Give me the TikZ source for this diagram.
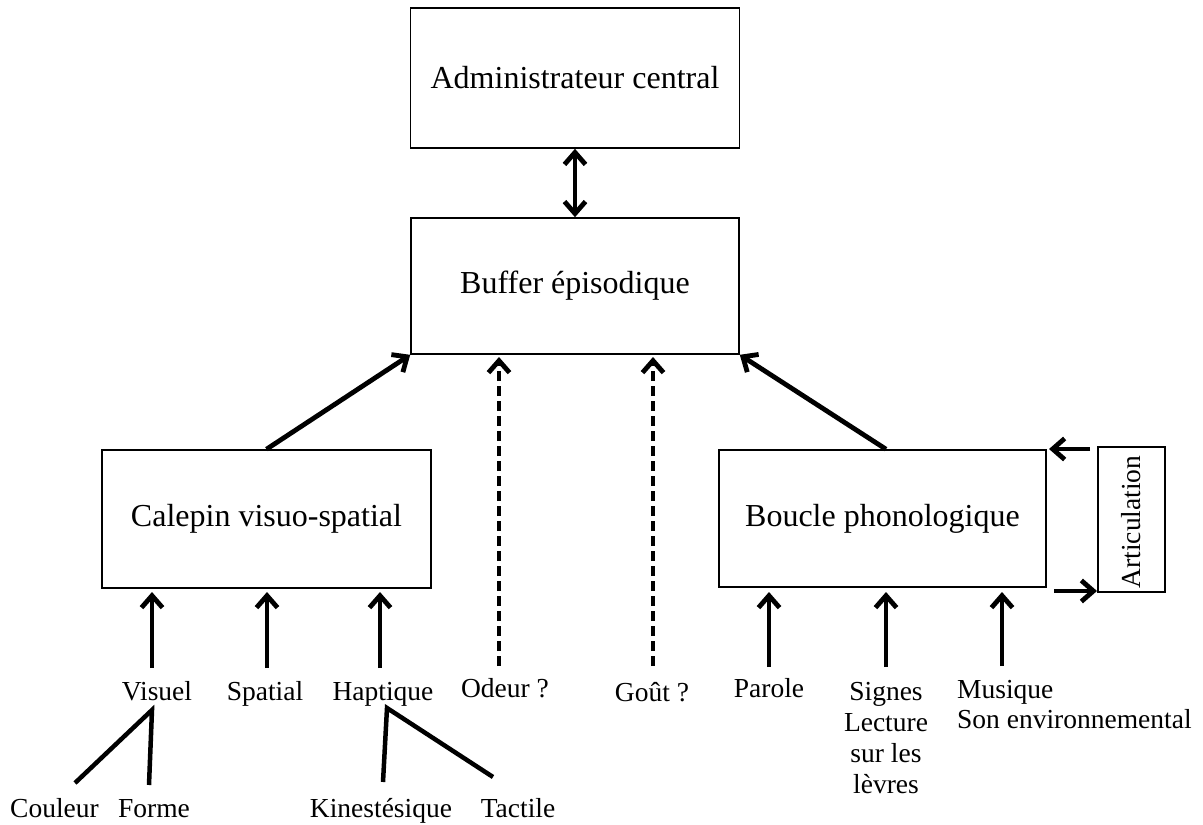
\documentclass[tikz,border=0pt]{standalone}
\usepackage{fontspec}
\setmainfont{Liberation Serif}
\usetikzlibrary{arrows.meta}
\begin{document}
\begin{tikzpicture}[x=1pt,y=-1pt,
  box/.style={draw,line width=1.6pt,inner sep=0pt,font=\fontsize{32}{37}\selectfont},
  lbl/.style={inner sep=0pt,anchor=base,font=\fontsize{27.5}{31}\selectfont},
  barb/.tip={Straight Barb[length=12pt,width=21pt,line width=4.8pt]},
  arr/.style={line width=4.8pt,-barb},
  darr/.style={arr,dash pattern=on 10pt off 5pt},
  twoarr/.style={line width=4.8pt,barb-barb},
  branch/.style={line width=4.5pt}]
\useasboundingbox (0,0) rectangle (1203,825);

% boxes
\node[box,minimum width=329pt,minimum height=140pt] (adm) at (575,78) {Administrateur central};
\node[box,minimum width=328pt,minimum height=136pt] (buf) at (575,286) {Buffer épisodique};
\node[box,minimum width=329pt,minimum height=138pt] (cal) at (266.5,519) {Calepin visuo-spatial};
\node[box,minimum width=327pt,minimum height=137pt] (bou) at (882.5,518.5) {Boucle phonologique};
\node[draw,line width=1.6pt,minimum width=67pt,minimum height=145pt,inner sep=0pt] (art) at (1131.5,519.5) {};
\node[inner sep=0pt,rotate=90,font=\fontsize{27.5}{31}\selectfont] (artt) at (1131.5,522) {Articulation};

% links between the components
\draw[twoarr] (adm.south) -- (buf.north);
\draw[arr] (cal.north) -- (buf.south west);
\draw[arr] (bou.north) ++(3.5pt,0) coordinate (bn) (bn) -- (buf.south east);
\coordinate (artA) at (1090,449);
\coordinate (bouA) at (1049,449);
\draw[arr] (artA) -- (bouA);
\coordinate (bouB) at (1054,591);
\coordinate (artB) at (1097,591);
\draw[arr] (bouB) -- (artB);

% sensory labels
\node[lbl] (vis) at (157,700) {Visuel};
\node[lbl] (spa) at (265,700) {Spatial};
\node[lbl] (hap) at (383,700) {Haptique};
\node[lbl] (ode) at (505,697) {Odeur ?};
\node[lbl] (gou) at (652,701) {Goût ?};
\node[lbl] (par) at (769,697) {Parole};
\node[lbl,align=center,anchor=north,font=\fontsize{27.5}{31}\selectfont] (sig) at (886,682) {Signes\\Lecture\\sur les\\lèvres};
\node[lbl,align=left,anchor=north west,font=\fontsize{27.5}{30.5}\selectfont] (mus) at (957,680) {Musique\\Son environnemental};
\node[lbl] (cou) at (54.5,817) {Couleur};
\node[lbl] (for) at (154,817) {Forme};
\node[lbl] (kin) at (381,817) {Kinestésique};
\node[lbl] (tac) at (518,817) {Tactile};

% arrows into the calepin
\coordinate (t1) at (152,668); \coordinate (h1) at (152,592);
\coordinate (t2) at (267,668); \coordinate (h2) at (267,592);
\coordinate (t3) at (380,668); \coordinate (h3) at (380,592);
\draw[arr] (t1) -- (h1);
\draw[arr] (t2) -- (h2);
\draw[arr] (t3) -- (h3);

% arrows into the phonological loop
\coordinate (t4) at (769,667); \coordinate (h4) at (769,592);
\coordinate (t5) at (886,667); \coordinate (h5) at (886,592);
\coordinate (t6) at (1002,666); \coordinate (h6) at (1002,592);
\draw[arr] (t4) -- (h4);
\draw[arr] (t5) -- (h5);
\draw[arr] (t6) -- (h6);

% dashed arrows for smell and taste
\coordinate (od) at (499,666); \coordinate (odh) at (499,357);
\coordinate (go) at (653,666); \coordinate (goh) at (653,357);
\draw[darr] (od) -- (odh);
\draw[darr] (go) -- (goh);

% sub-branches
\coordinate (va) at (152,710);
\coordinate (vc) at (75,783);
\coordinate (vf) at (149,785);
\draw[branch] (vc) -- (va) -- (vf);
\coordinate (ha) at (387,708);
\coordinate (hk) at (383,782);
\coordinate (ht) at (493,777);
\draw[branch] (hk) -- (ha) -- (ht);
\end{tikzpicture}
\end{document}
